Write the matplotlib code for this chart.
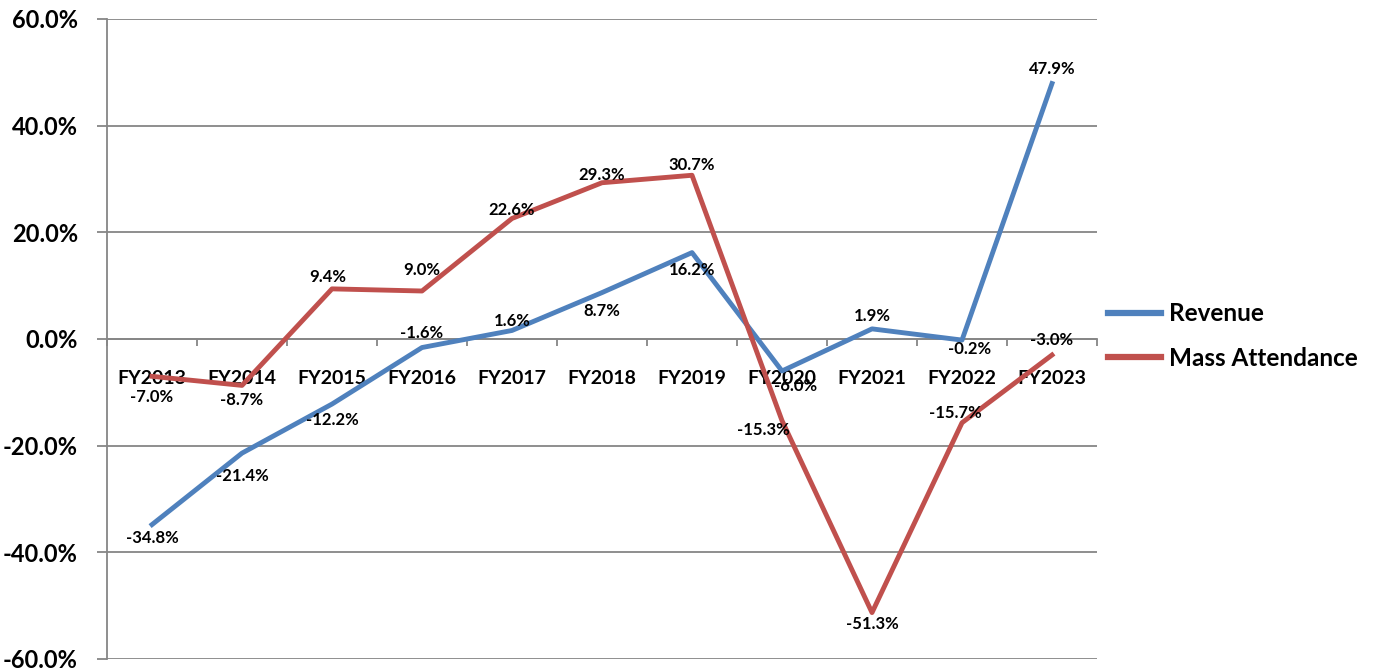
import matplotlib
matplotlib.use('Agg')
import matplotlib.pyplot as plt
from matplotlib.ticker import FuncFormatter, FixedLocator

years = ['FY2013', 'FY2014', 'FY2015', 'FY2016', 'FY2017', 'FY2018',
         'FY2019', 'FY2020', 'FY2021', 'FY2022', 'FY2023']
revenue = [-34.8, -21.4, -12.2, -1.6, 1.6, 8.7, 16.2, -6.0, 1.9, -0.2, 47.9]
mass_attendance = [-7.0, -8.7, 9.4, 9.0, 22.6, 29.3, 30.7, -15.3, -51.3, -15.7, -3.0]
series_names = ['Revenue', 'Mass Attendance']

# label offsets in pixels (dx, dy)
rev_offsets = [(0, -13), (0, -23), (0, -16), (0, 15), (0, 9), (0, -18),
               (0, -17), (14, -15), (0, 13), (8, -9), (0, 15)]
mass_offsets = [(0, -21), (0, -15), (-4, 12), (0, 21), (0, 8), (0, 8),
                (0, 10), (-19, -9), (0, -11), (-7, 10), (0, 15)]

BLUE = '#4F81BD'
RED = '#C0504D'
GRID = '#868686'
FONT = ['Lato', 'DejaVu Sans']

plt.rcParams['font.family'] = FONT

fig = plt.figure(figsize=(13.73, 6.71), dpi=100)
ax = fig.add_axes([107 / 1373, 1 - 659 / 671, 990 / 1373, 640 / 671])

x = list(range(len(years)))
ax.plot(x, revenue, color=BLUE, lw=3.5, label=series_names[0], zorder=3,
        solid_joinstyle='round')
ax.plot(x, mass_attendance, color=RED, lw=3.5, label=series_names[1], zorder=3,
        solid_joinstyle='round')

for xi, v, off in zip(x, revenue, rev_offsets):
    ax.annotate('%.1f%%' % v, (xi, v), xytext=off, textcoords='offset pixels',
                ha='center', va='center', fontsize=12, fontweight='bold',
                color='black', zorder=5)
for xi, v, off in zip(x, mass_attendance, mass_offsets):
    ax.annotate('%.1f%%' % v, (xi, v), xytext=off, textcoords='offset pixels',
                ha='center', va='center', fontsize=12, fontweight='bold',
                color='black', zorder=5)

ax.set_xlim(-0.5, len(years) - 0.5)
ax.set_ylim(-60, 60)
ax.set_yticks(range(-60, 61, 20))
ax.yaxis.set_major_formatter(FuncFormatter(lambda v, p: '%.1f%%' % v))
ax.grid(axis='y', color=GRID, lw=1.3, zorder=1)
ax.set_axisbelow(True)

for s in ['top', 'right']:
    ax.spines[s].set_visible(False)
ax.spines['left'].set_color(GRID)
ax.spines['left'].set_linewidth(1.3)
ax.spines['bottom'].set_position(('data', 0))
ax.spines['bottom'].set_color(GRID)
ax.spines['bottom'].set_linewidth(1.3)

ax.tick_params(axis='y', length=7, width=1.3, color=GRID, pad=14,
               labelsize=17)
for lab in ax.get_yticklabels():
    lab.set_fontweight('bold')

ax.set_xticks(x)
ax.set_xticklabels(years, fontsize=14, fontweight='bold')
ax.tick_params(axis='x', which='major', length=0, pad=22)
ax.xaxis.set_minor_locator(FixedLocator([i - 0.5 for i in range(len(years) + 1)]))
ax.tick_params(axis='x', which='minor', length=5, width=1.3, color=GRID,
               direction='out')

leg = ax.legend(loc='center left', bbox_to_anchor=(1108 / 1373, 1 - 336 / 671),
                bbox_transform=fig.transFigure, frameon=False, borderpad=0,
                borderaxespad=0, handlelength=2.2, handletextpad=0.3,
                labelspacing=0.9, prop={'size': 17.5, 'weight': 'bold'})
for line in leg.get_lines():
    line.set_linewidth(4.5)

fig.savefig('out.png', dpi=100)
